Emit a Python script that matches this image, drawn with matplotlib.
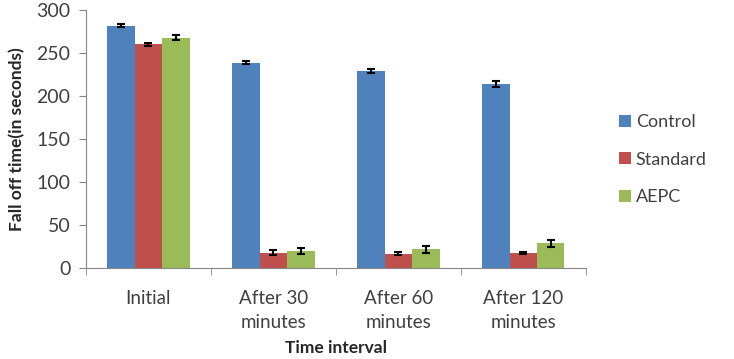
import numpy as np
import matplotlib.pyplot as plt

plt.rcParams['font.family'] = ['Lato', 'DejaVu Sans']

categories = ['Initial', 'After 30\nminutes', 'After 60\nminutes', 'After 120\nminutes']
series = ['Control', 'Standard', 'AEPC']
control = [282, 239, 229, 214]
standard = [260, 18, 17, 18]
aepc = [268, 20, 22, 29]
control_err = [2, 2, 2.5, 3]
standard_err = [2, 3, 1.5, 1]
aepc_err = [3, 3, 4, 4]

colors = ['#4F81BD', '#C0504D', '#9BBB59']
values = [control, standard, aepc]
errors = [control_err, standard_err, aepc_err]

fig = plt.figure(figsize=(7.34, 3.59), dpi=100)
ax = fig.add_axes([0.117, 0.253, 0.681, 0.719])

x = np.arange(len(categories))
w = 0.22
for i, (vals, errs, col, name) in enumerate(zip(values, errors, colors, series)):
    ax.bar(x + (i - 1) * w, vals, w, color=col, label=name,
           yerr=errs, capsize=3, error_kw=dict(ecolor='black', elinewidth=1.5, capthick=1.5))

ax.set_xlim(-0.5, len(categories) - 0.5)
ax.set_ylim(0, 300)
ax.set_yticks(range(0, 301, 50))
ax.set_xticks(x)
ax.set_xticklabels(categories, fontsize=13.5, color='#404040', linespacing=1.45)
ax.set_xticks(np.arange(-0.5, len(categories)), minor=True)
ax.tick_params(axis='x', which='major', length=0, pad=16)
ax.tick_params(axis='x', which='minor', length=5, color='#868686')
ax.tick_params(axis='y', length=5, color='#868686', labelsize=14, labelcolor='#404040', pad=6)

for s in ['top', 'right']:
    ax.spines[s].set_visible(False)
for s in ['left', 'bottom']:
    ax.spines[s].set_color('#868686')

ax.set_ylabel('Fall off time(in seconds)', fontsize=12.5, fontweight='bold', color='#262626', labelpad=8)
ax.set_xlabel('Time interval', fontsize=12.5, fontweight='bold', color='#262626', labelpad=7)

ax.legend(loc='center left', bbox_to_anchor=(1.035, 0.42), frameon=False, fontsize=13,
          handlelength=0.65, handleheight=0.65, handletextpad=0.25, labelspacing=1.2,
          labelcolor='#404040')

fig.savefig('out.png', dpi=100)
